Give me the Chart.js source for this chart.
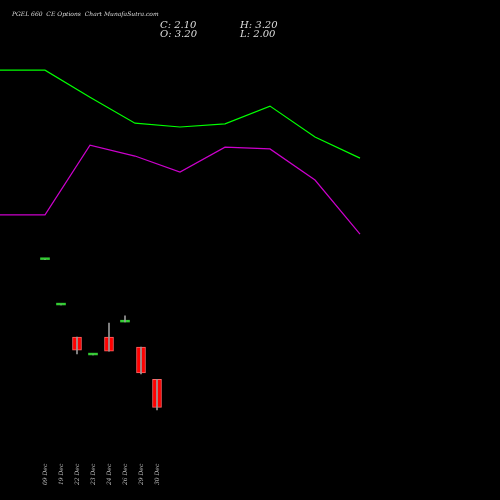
<!DOCTYPE html><html><head><script src="https://cdn.jsdelivr.net/npm/chart.js"></script>
<style>body{margin:0;background:#000}#w{width:500px;height:500px}</style></head><body><div id="w"><canvas id="c"></canvas></div><script>
const dates=["09 Dec","19 Dec","22 Dec","23 Dec","24 Dec","26 Dec","29 Dec","30 Dec"];
const opens=[7.9,6.12,4.86,4.16,4.86,5.45,4.47,3.2];
const closes=[7.9,6.12,4.35,4.16,4.31,5.5,3.45,2.1];
const highs=[7.9,6.12,4.86,4.16,5.41,5.69,4.47,3.2];
const lows=[7.9,6.12,4.2,4.16,4.31,5.45,3.41,2.0];
const upper=[15.33,15.33,14.27,13.25,13.1,13.22,13.92,12.71,11.88];
const lower=[9.65,9.65,12.39,11.96,11.33,12.31,12.24,11.02,8.9];
const idx=dates.map((d,i)=>i);
const up=i=>closes[i]>=opens[i];
const bodies=idx.map(i=>{let a=Math.min(opens[i],closes[i]),b=Math.max(opens[i],closes[i]);if(b-a<0.07)b=a+0.07;return {x:i,y:[a,b]};});
const wicks=idx.map(i=>({x:i,y:[lows[i],highs[i]]}));
const labelPlugin={id:'lbl',afterDraw(ch){const c=ch.ctx,s=ch.scales.xc;c.save();c.fillStyle='#bbb';c.font='italic 6px "DejaVu Serif"';
dates.forEach((d,i)=>{c.save();c.translate(s.getPixelForValue(i)+2,485);c.rotate(-Math.PI/2);c.fillText(d,0,0);c.restore();});
c.fillStyle='#ddd';c.font='italic 6px "DejaVu Serif"';c.fillText('PGEL 660  CE Options  Chart MunafaSutra.com',12,16);
c.font='italic 10px "DejaVu Serif"';c.fillText('C: 2.10',160,28);c.fillText('H: 3.20',240,28);c.fillText('O: 3.20',160,37);c.fillText('L: 2.00',240,37);c.restore();}};
new Chart(document.getElementById('c'),{data:{datasets:[
{type:'line',data:upper.map((v,i)=>({x:i,y:v})),xAxisID:'xl',borderColor:'#00ff00',borderWidth:1.2,pointRadius:0,tension:0},
{type:'line',data:lower.map((v,i)=>({x:i,y:v})),xAxisID:'xl',borderColor:'#cc00cc',borderWidth:1.2,pointRadius:0,tension:0},
{type:'bar',data:wicks,xAxisID:'xc',backgroundColor:'#999',barThickness:1,grouped:false},
{type:'bar',data:bodies,xAxisID:'xc',backgroundColor:idx.map(i=>up(i)?'#33cc33':'#ff0000'),borderColor:idx.map(i=>up(i)?'#66dd66':'#ff6666'),borderWidth:idx.map(i=>up(i)?0:1),borderSkipped:false,barThickness:9,grouped:false}
]},options:{responsive:true,maintainAspectRatio:false,animation:false,layout:{padding:0},
plugins:{legend:{display:false},tooltip:{enabled:false}},
scales:{xl:{type:'linear',min:0,max:500/45,display:false,offset:false},xc:{type:'linear',min:-45/16,max:455/16,display:false,offset:false},y:{min:-1.53,max:18.08,display:false}}},
plugins:[labelPlugin]});
</script></body></html>
